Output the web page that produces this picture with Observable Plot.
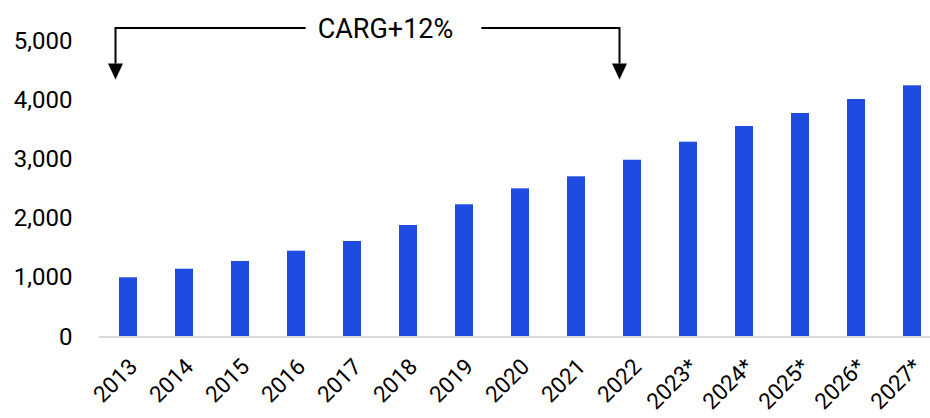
<!DOCTYPE html>
<html>
<head>
<meta charset="utf-8">
<script src="https://cdn.jsdelivr.net/npm/d3@7"></script>
<script src="https://cdn.jsdelivr.net/npm/@observablehq/plot@0.6"></script>
<style>
  html, body { margin: 0; padding: 0; background: #fff; }
  #chart { width: 930px; height: 418px; }
</style>
</head>
<body>
<div id="chart"></div>
<script>
const years = ["2013", "2014", "2015", "2016", "2017", "2018", "2019", "2020", "2021", "2022", "2023*", "2024*", "2025*", "2026*", "2027*"];
const values = [1000, 1145, 1275, 1450, 1613, 1883, 2233, 2503, 2706, 2986, 3290, 3556, 3775, 4012, 4243];
const yTicks = [0, 1000, 2000, 3000, 4000, 5000];
const annotationLabel = "CARG+12%";
const annotationFrom = "2013";
const annotationTo = "2022";
const annotationLevel = 5210;
const annotationTip = 4340;

const data = years.map((year, i) => ({year, value: values[i]}));

const plot = Plot.plot({
  width: 930,
  height: 418,
  marginTop: 40.5,
  marginBottom: 81.5,
  marginLeft: 99,
  marginRight: 0,
  style: {fontFamily: "Roboto", fontSize: "24px", color: "#000", background: "#fff", overflow: "visible"},
  x: {type: "band", domain: years, paddingInner: 0.68, paddingOuter: 0.246, align: 0.69, label: null},
  y: {domain: [0, 5000], label: null},
  marks: [
    Plot.barY(data, {x: "year", y: "value", fill: "#1f4ce0"}),
    Plot.ruleY([0], {stroke: "#d9d9d9", strokeWidth: 2}),
    Plot.axisY({ticks: yTicks, tickSize: 0, tickPadding: 27, tickFormat: d3.format(","), label: null}),
    Plot.axisX({tickSize: 0, tickPadding: 26, dx: 5, tickRotate: -45, fontSize: 22.5, label: null})
  ]
});
document.getElementById("chart").appendChild(plot);

// annotation drawn through the plot's own scales
const sx = plot.scale("x");
const sy = plot.scale("y");
const cx = (v) => sx.apply(v) + sx.bandwidth / 2 - 12.5;
const x1 = cx(annotationFrom), x2 = cx(annotationTo);
const yl = sy.apply(annotationLevel), yt = sy.apply(annotationTip);
const svg = d3.select(plot);
const g = svg.append("g").attr("fill", "none").attr("stroke", "#000").attr("stroke-width", 2);
const textX = (x1 + x2) / 2 + 18;
const t = svg.append("text")
  .attr("x", textX).attr("y", yl)
  .attr("text-anchor", "middle").attr("dy", "0.36em")
  .attr("font-size", 27).attr("fill", "#000")
  .text(annotationLabel);
const tw = t.node().getComputedTextLength();
const gapL = textX - tw / 2 - 12, gapR = textX + tw / 2 + 28;
const headH = 16, headW = 15;
g.append("path").attr("d", `M${x1},${yt - headH}V${yl}H${gapL}`);
g.append("path").attr("d", `M${gapR},${yl}H${x2}V${yt - headH}`);
svg.append("path").attr("fill", "#000")
  .attr("d", `M${x1 - headW / 2},${yt - headH}L${x1 + headW / 2},${yt - headH}L${x1},${yt}Z`);
svg.append("path").attr("fill", "#000")
  .attr("d", `M${x2 - headW / 2},${yt - headH}L${x2 + headW / 2},${yt - headH}L${x2},${yt}Z`);
</script>
</body>
</html>
